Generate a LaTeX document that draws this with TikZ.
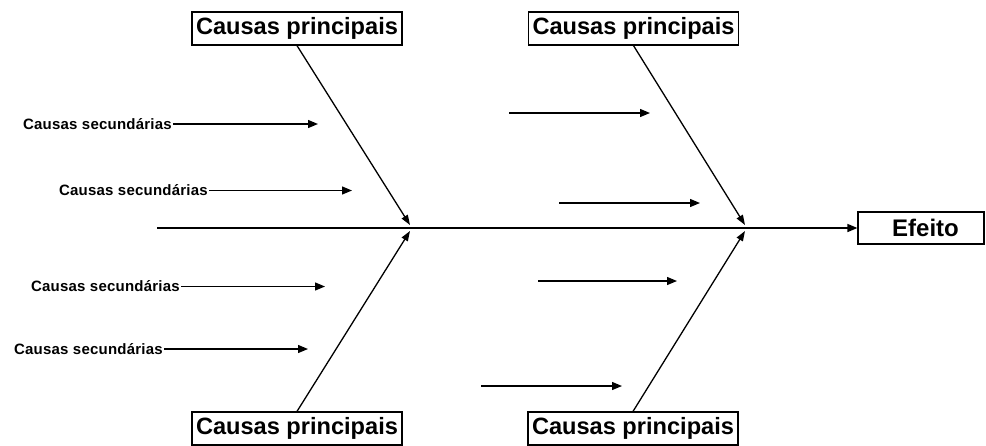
\documentclass[tikz,border=0pt]{standalone}
\usepackage{fontspec}
\setmainfont{Liberation Sans}
\newfontfamily\secfont[LetterSpace=1.5]{Liberation Sans}
\usetikzlibrary{arrows.meta}
\begin{document}
\begin{tikzpicture}[x=1pt,y=-1pt,
  mainbox/.style={draw,line width=1.2pt,inner sep=0pt,minimum width=210pt,minimum height=33pt,font=\fontsize{23.6}{26}\selectfont\bfseries},
  effbox/.style={draw,line width=1.2pt,inner sep=0pt,minimum width=126pt,minimum height=32pt,font=\fontsize{24}{26}\selectfont\bfseries},
  sectext/.style={inner sep=1pt,anchor=east,font=\secfont\fontsize{15}{17}\selectfont\bfseries},
  arr/.style={line width=1.3pt,-{Triangle[length=10pt,width=8pt]}},
  bone/.style={line width=1.3pt,-{Triangle[length=10pt,width=7pt]}}]
\useasboundingbox (0,0) rectangle (986,445);
% boxes
\node[mainbox] (tl) at (297,28.5) {Causas principais};
\node[mainbox] (tr) at (633.5,28.5) {Causas principais};
\node[mainbox] (bl) at (297,428.5) {Causas principais};
\node[mainbox] (br) at (633,428.5) {Causas principais};
\node[effbox] (eff) at (921,228) {\hspace*{9pt}Efeito};
% spine
\coordinate (s0) at (157,228);
\draw[line width=1.5pt,-{Triangle[length=10pt,width=8pt]}] (s0) -- (eff.west);
% tips
\coordinate (c1) at (410,225);
\coordinate (c2) at (410,231);
\coordinate (c3) at (745,225);
\coordinate (c4) at (745,231);
\draw[bone] (tl.south) -- (c1);
\draw[bone] (bl.north) -- (c2);
\draw[bone] (tr.south) -- (c3);
\draw[bone] (br.north) -- (c4);
% secondary causes left
\node[sectext] (t1) at (173,124) {Causas secund\'arias};
\node[sectext] (t2) at (209,190.5) {Causas secund\'arias};
\node[sectext] (t3) at (181,286.5) {Causas secund\'arias};
\node[sectext] (t4) at (164,349) {Causas secund\'arias};
\coordinate (e1) at (318,124);
\coordinate (e2) at (352,190.5);
\coordinate (e3) at (325,286.5);
\coordinate (e4) at (308,349);
\draw[arr] (t1.east) -- (e1);
\draw[arr] (t2.east) -- (e2);
\draw[arr] (t3.east) -- (e3);
\draw[arr] (t4.east) -- (e4);
% secondary arrows right
\coordinate (r1a) at (509,113);  \coordinate (r1b) at (650,113);
\coordinate (r2a) at (559,203);  \coordinate (r2b) at (700,203);
\coordinate (r3a) at (538,281);  \coordinate (r3b) at (677,281);
\coordinate (r4a) at (481,386);  \coordinate (r4b) at (622,386);
\draw[arr] (r1a) -- (r1b);
\draw[arr] (r2a) -- (r2b);
\draw[arr] (r3a) -- (r3b);
\draw[arr] (r4a) -- (r4b);
\end{tikzpicture}
\end{document}
